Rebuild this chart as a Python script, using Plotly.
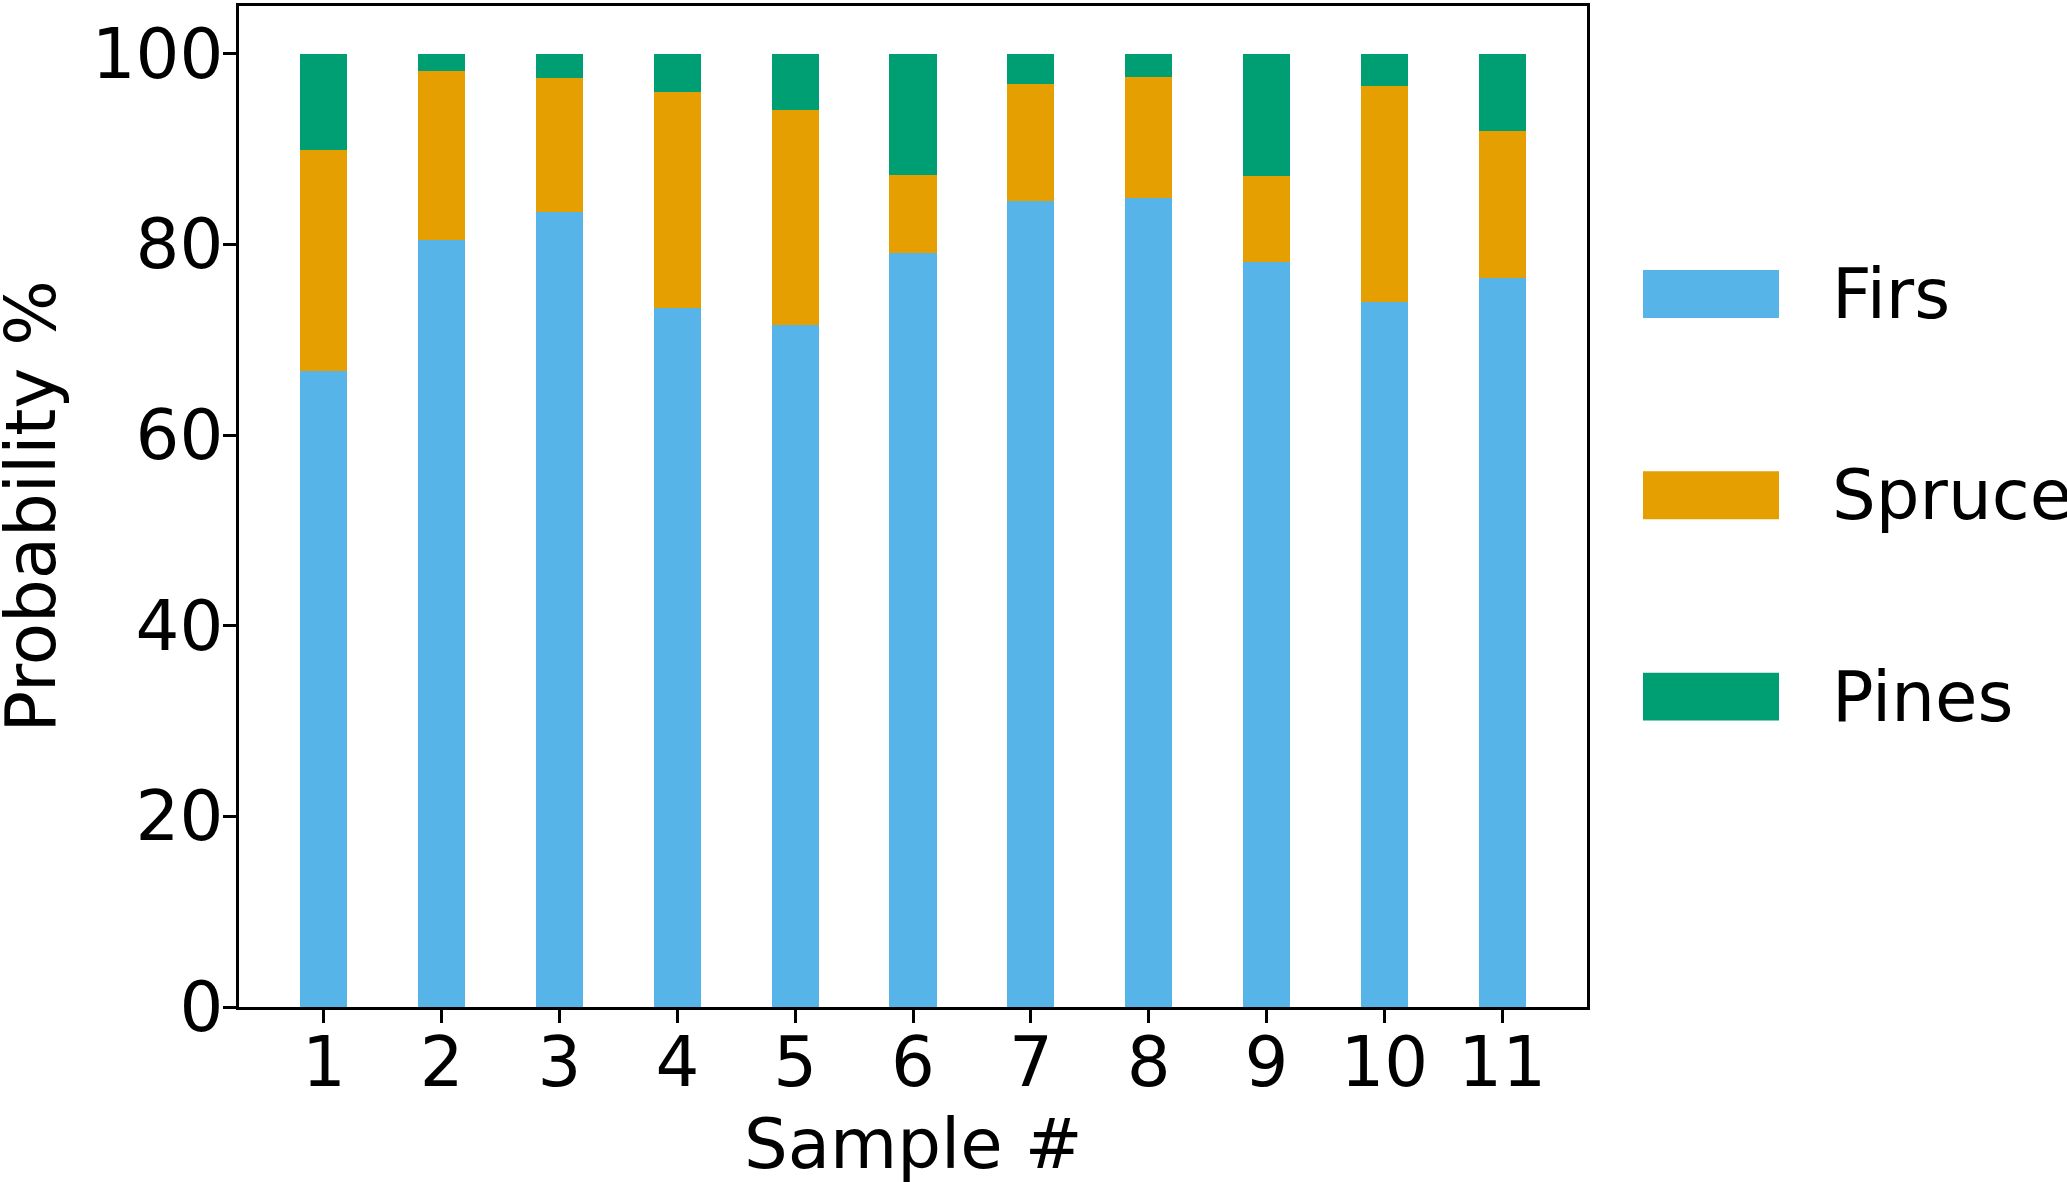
import plotly.graph_objects as go

samples = [1, 2, 3, 4, 5, 6, 7, 8, 9, 10, 11]
firs = [66.7, 80.5, 83.4, 73.3, 71.5, 79.1, 84.5, 84.9, 78.1, 74.0, 76.5]
spruce = [23.2, 17.7, 14.0, 22.7, 22.6, 8.2, 12.3, 12.7, 9.1, 22.6, 15.4]
pines = [10.1, 1.8, 2.6, 4.0, 5.9, 12.7, 3.2, 2.4, 12.8, 3.4, 8.1]
series_names = ["Firs", "Spruce", "Pines"]
series_colors = ["#56B4E9", "#E69F00", "#009E73"]
y_ticks = [0, 20, 40, 60, 80, 100]

W, H = 2067, 1182
L, R, T, B = 239, 1587, 3, 1007.5
FONT = "DejaVu Sans"
FS = 69

fig = go.Figure()
for name, vals, col in zip(series_names, [firs, spruce, pines], series_colors):
    fig.add_trace(go.Bar(x=samples, y=vals, name=name, width=0.4,
                         marker=dict(color=col, line=dict(width=0)),
                         showlegend=False))

fig.update_layout(
    barmode="stack",
    width=W, height=H,
    margin=dict(l=L, r=W - R, t=T, b=H - B, pad=0),
    plot_bgcolor="white", paper_bgcolor="white",
    font=dict(family=FONT, size=FS, color="black"),
)
fig.update_xaxes(range=[0.28, 11.72], tickvals=samples, ticktext=[str(s) for s in samples],
                 ticks="outside", ticklen=13, tickwidth=2.7, tickcolor="black",
                 ticklabelstandoff=-20,
                 showline=True, linewidth=2.7, linecolor="black", mirror=True,
                 showgrid=False, zeroline=False, tickfont=dict(size=FS, family=FONT))
fig.update_yaxes(range=[0, 105], tickvals=y_ticks, ticktext=[str(v) for v in y_ticks],
                 ticks="outside", ticklen=13, tickwidth=2.7, tickcolor="black",
                 ticklabelstandoff=-14,
                 showline=True, linewidth=2.7, linecolor="black", mirror=True,
                 showgrid=False, zeroline=False, tickfont=dict(size=FS, family=FONT))

pw, ph = R - L, B - T
def px_x(x):
    return (x - L) / pw
def px_y(y):
    return (B - y) / ph

# axis titles
fig.add_annotation(text="Sample #", xref="paper", yref="paper",
                   x=px_x((L + R) / 2), y=px_y(1145), xanchor="center", yanchor="middle",
                   showarrow=False, font=dict(size=FS, family=FONT, color="black"))
fig.add_annotation(text="Probability %", xref="paper", yref="paper",
                   x=px_x(30), y=px_y((T + B) / 2), xanchor="center", yanchor="middle",
                   textangle=-90, showarrow=False, font=dict(size=FS, family=FONT, color="black"))

# legend (manual, matplotlib style patches)
leg_centers = [292, 494, 696]
for name, col, cy in zip(series_names, series_colors, leg_centers):
    fig.add_shape(type="rect", xref="paper", yref="paper",
                  x0=px_x(1643), x1=px_x(1779), y0=px_y(cy + 24), y1=px_y(cy - 24),
                  fillcolor=col, line=dict(width=0))
    fig.add_annotation(text=name, xref="paper", yref="paper",
                       x=px_x(1830), y=px_y(cy), xanchor="left", yanchor="middle",
                       showarrow=False, font=dict(size=FS, family=FONT, color="black"))

fig.write_html("out.html", config={"displayModeBar": False},
               post_script="document.body.style.margin='0';")
